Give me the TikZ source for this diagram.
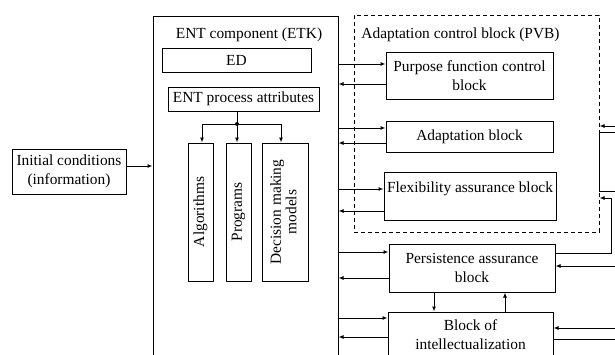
\documentclass[tikz,border=0pt]{standalone}
\usepackage{fontspec}
\setmainfont{Liberation Serif}
\usetikzlibrary{arrows.meta}
\begin{document}
\begin{tikzpicture}[x=1pt,y=-1pt,
  box/.style={draw, line width=1pt, inner sep=0pt, align=center,
    font=\fontsize{15.4pt}{18.5pt}\selectfont},
  lbl/.style={inner sep=0pt, font=\fontsize{15.4pt}{18.5pt}\selectfont},
  conn/.style={line width=1pt},
  arr/.style={line width=1pt, -{Latex[length=5pt,width=4pt]}}]
\useasboundingbox (0,0) rectangle (615,354);
\begin{scope}
\clip (0,0) rectangle (615,354);
% left
\node[box, minimum width=114pt, minimum height=45pt] (init) at (69,171.5) {Initial conditions\\(information)};
% ETK
\node[box, minimum width=185pt, minimum height=384pt] (etk) at (245.5,208) {};
\node[lbl, anchor=base] (etkt) at (249,38) {ENT component (ETK)};
\node[box, minimum width=149pt, minimum height=24pt] (ed) at (236.5,60) {ED};
\node[box, minimum width=151pt, minimum height=24pt] (attrs) at (243.5,99) {ENT process attributes};
\node[box, minimum width=25pt, minimum height=138pt] (alg) at (200.5,212) {\rotatebox{90}{Algorithms}};
\node[box, minimum width=25pt, minimum height=138pt] (prog) at (238.5,212) {\rotatebox{90}{Programs}};
\node[box, minimum width=46pt, minimum height=138pt] (dmm) at (285,212) {\rotatebox{90}{\begin{tabular}{@{}c@{}}Decision making\\[-3pt]models\end{tabular}}};
% PVB
\node[draw, dash pattern=on 4pt off 3pt, line width=1pt, minimum width=245pt, minimum height=217pt, inner sep=0pt] (pvb) at (476.5,123.5) {};
\node[lbl, anchor=base] (pvbt) at (460.5,38) {Adaptation control block (PVB)};
\node[box, minimum width=167pt, minimum height=47pt] (pfc) at (469.5,75.5) {Purpose function control\\block};
\node[box, minimum width=167pt, minimum height=31pt] (adp) at (469.5,136.5) {Adaptation block};
\node[box, minimum width=172pt, minimum height=48pt] (flex) at (470,196) {Flexibility assurance block\\~};
\node[box, minimum width=166pt, minimum height=48pt] (pers) at (472,268) {Persistence assurance\\block};
\node[box, minimum width=165pt, minimum height=45pt] (intel) at (470.5,334.5) {Block of\\intellectualization};
% connectors left
\draw[arr] (init.east |- 0,166) -- (etk.west |- 0,166);
\coordinate (j) at (237,124);
\coordinate (ja) at (202,124);
\coordinate (jd) at (281,124);
\draw[conn] (attrs.south -| j) -- (j);
\draw[conn] (ja) -- (jd);
\fill (j) circle (2pt);
\draw[arr] (ja) -- (ja |- alg.north);
\draw[arr] (j) -- (j |- prog.north);
\draw[arr] (jd) -- (jd |- dmm.north);
% ETK <-> blocks
\draw[arr] (etk.east |- 0,64) -- (pfc.west |- 0,64);
\draw[arr] (pfc.west |- 0,84) -- (etk.east |- 0,84);
\draw[arr] (etk.east |- 0,128) -- (adp.west |- 0,128);
\draw[arr] (adp.west |- 0,143) -- (etk.east |- 0,143);
\draw[arr] (etk.east |- 0,189) -- (flex.west |- 0,189);
\draw[arr] (flex.west |- 0,211) -- (etk.east |- 0,211);
\draw[arr] (etk.east |- 0,252) -- (pers.west |- 0,252);
\draw[arr] (pers.west |- 0,278) -- (etk.east |- 0,278);
\draw[arr] (etk.east |- 0,318) -- (intel.west |- 0,318);
\draw[arr] (intel.west |- 0,337) -- (etk.east |- 0,337);
% pers <-> intel
\draw[arr] (pers.south -| 434,0) -- (intel.north -| 434,0);
\draw[arr] (intel.north -| 505,0) -- (pers.south -| 505,0);
% right side
\coordinate (r1) at (615,126);
\coordinate (r2a) at (615,132);
\coordinate (r2b) at (615,191);
\coordinate (r3) at (611,198);
\coordinate (r4) at (615,266);
\coordinate (r5) at (615,328);
\coordinate (r6) at (615,339);
\draw[arr] (r1) -- (pvb.east |- r1);
\draw[conn] (r2a) -- (pvb.east |- r2a) -- (pvb.east |- r2b) -- (r2b);
\draw[arr] (pers.east |- 0,253) -| (r3) -- (pvb.east |- r3);
\draw[arr] (r4) -- (pers.east |- r4);
\draw[arr] (r5) -- (intel.east |- r5);
\draw[conn] (intel.east |- r6) -- (r6);
\end{scope}
\end{tikzpicture}
\end{document}
